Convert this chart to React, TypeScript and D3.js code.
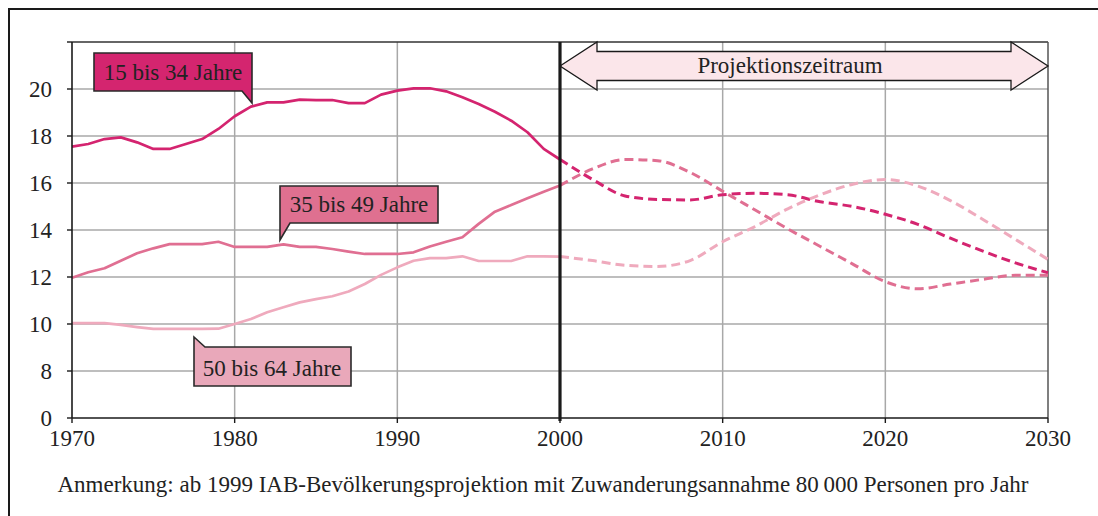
import React from "react";
import * as d3 from "d3";

const histYears = [1970,1971,1972,1973,1974,1975,1976,1977,1978,1979,1980,1981,1982,1983,1984,1985,1986,1987,1988,1989,1990,1991,1992,1993,1994,1995,1996,1997,1998,1999,2000];
const projYears = [2000,2002,2004,2006,2008,2010,2012,2014,2016,2018,2020,2022,2024,2026,2028,2030];

const hist15 = [17.55,17.66,17.87,17.94,17.73,17.45,17.45,17.66,17.87,18.3,18.84,19.25,19.43,19.43,19.55,19.53,19.53,19.4,19.4,19.76,19.93,20.03,20.03,19.9,19.65,19.36,19.03,18.65,18.16,17.45,17.0];
const hist35 = [11.97,12.2,12.37,12.69,13.01,13.22,13.4,13.4,13.4,13.5,13.28,13.28,13.28,13.39,13.28,13.28,13.19,13.08,12.98,12.98,12.98,13.05,13.3,13.5,13.69,14.26,14.78,15.06,15.35,15.63,15.89];
const hist50 = [10.04,10.04,10.04,9.96,9.87,9.79,9.79,9.79,9.79,9.8,10.0,10.21,10.5,10.71,10.92,11.06,11.18,11.38,11.7,12.09,12.41,12.69,12.8,12.8,12.88,12.68,12.68,12.68,12.88,12.88,12.87];

const proj15 = [17.0,16.15,15.45,15.3,15.28,15.5,15.56,15.5,15.2,15.0,14.67,14.24,13.65,13.1,12.6,12.18];
const proj35 = [15.89,16.6,17.0,16.95,16.45,15.65,14.85,14.05,13.3,12.55,11.8,11.5,11.7,11.9,12.07,12.07];
const proj50 = [12.87,12.7,12.5,12.45,12.7,13.5,14.15,14.9,15.5,15.95,16.15,15.87,15.25,14.45,13.6,12.75];

const seriesNames = ["15 bis 34 Jahre", "35 bis 49 Jahre", "50 bis 64 Jahre"];
const seriesColors = ["#d4246f", "#e06f92", "#efaabd"];
const labelFills = ["#d4256f", "#df7090", "#e9a8ba"];

const xTicks = [1970,1980,1990,2000,2010,2020,2030];
const yTicks = [6,8,10,12,14,16,18,20,22];
const yTickLabels = ["0","8","10","12","14","16","18","20",""];
const gridY = [8,10,12,14,16,18,20];
const gridX = [1980,1990,2010,2020];

const projStart = 2000;
const projEnd = 2030;
const projLabel = "Projektionszeitraum";
const note = "Anmerkung: ab 1999 IAB-Bevölkerungsprojektion mit Zuwanderungsannahme 80\u2009000 Personen pro Jahr";

const FONT = "Liberation Serif, DejaVu Serif, serif";

export default function App() {
  const left = 72, right = 1048, top = 42, bottom = 418;
  const x = d3.scaleLinear().domain([1970, 2030]).range([left, right]);
  const y = d3.scaleLinear().domain([6, 22]).range([bottom, top]);

  const solid = d3.line<[number, number]>().x(d => x(d[0])).y(d => y(d[1])).curve(d3.curveLinear);
  const dashed = d3.line<[number, number]>().x(d => x(d[0])).y(d => y(d[1])).curve(d3.curveMonotoneX);

  const hist = [hist15, hist35, hist50];
  const proj = [proj15, proj35, proj50];

  const ax0 = x(projStart), ax1 = x(projEnd);
  const ayc = 66, headL = 37, headH = 24, shaftH = 14.5;
  const arrowPath = `M${ax0},${ayc} L${ax0 + headL},${ayc - headH} V${ayc - shaftH} H${ax1 - headL} V${ayc - headH} L${ax1},${ayc} L${ax1 - headL},${ayc + headH} V${ayc + shaftH} H${ax0 + headL} V${ayc + headH} Z`;

  const callouts = [
    { path: "M94,53 H252 V103 L242,91 H94 Z", tx: 173, ty: 80 },
    { path: "M280,186 H438 V223 H290 L280,240 Z", tx: 359, ty: 212 },
    { path: "M194,337 L205,347 H351 V386 H194 Z", tx: 272, ty: 376 },
  ];

  const T = (props: any) => <text fontFamily={FONT} fill="#222" fontSize={23} {...props} />;

  return (
    <>
      <style>{`body{margin:0;background:#fff}`}</style>
      <svg width={1098} height={516} style={{ display: "block" }}>
        <rect x={0} y={0} width={1098} height={516} fill="#fff" />
        <rect x={9} y={9} width={1200} height={600} fill="none" stroke="#1a1a1a" strokeWidth={2} />

        {gridY.map(v => (
          <line key={"gy" + v} x1={left} x2={right} y1={y(v)} y2={y(v)} stroke="#a8a8a8" strokeWidth={1.5} />
        ))}
        {gridX.map(v => (
          <line key={"gx" + v} x1={x(v)} x2={x(v)} y1={top} y2={bottom} stroke="#a8a8a8" strokeWidth={1.5} />
        ))}
        <line x1={left} x2={right} y1={top} y2={top} stroke="#333" strokeWidth={1.5} />
        <line x1={right} x2={right} y1={top} y2={bottom} stroke="#555" strokeWidth={1.5} />

        <path d={arrowPath} fill="#fbe6ea" stroke="#1a1a1a" strokeWidth={1.3} />
        <T x={790} y={73} textAnchor="middle">{projLabel}</T>

        {hist.map((s, i) => (
          <path key={"h" + i} d={solid(histYears.map((yr, j) => [yr, s[j]]) as [number, number][]) || ""}
            fill="none" stroke={seriesColors[i]} strokeWidth={2.7} strokeLinejoin="round" />
        ))}
        {proj.map((s, i) => (
          <path key={"p" + i} d={dashed(projYears.map((yr, j) => [yr, s[j]]) as [number, number][]) || ""}
            fill="none" stroke={seriesColors[i]} strokeWidth={3} strokeDasharray="9,5" />
        ))}

        <line x1={x(projStart)} x2={x(projStart)} y1={top} y2={bottom + 3} stroke="#1a1a1a" strokeWidth={3.2} />

        <line x1={left} x2={left} y1={top} y2={bottom} stroke="#1a1a1a" strokeWidth={1.6} />
        <line x1={left} x2={right} y1={bottom} y2={bottom} stroke="#1a1a1a" strokeWidth={1.6} />
        {yTicks.map((v, i) => (
          <g key={"yt" + v}>
            <line x1={left - 5} x2={left} y1={y(v)} y2={y(v)} stroke="#1a1a1a" strokeWidth={1.4} />
            <T x={52} y={y(v) + 7.5} textAnchor="end">{yTickLabels[i]}</T>
          </g>
        ))}
        {xTicks.map(v => (
          <g key={"xt" + v}>
            <line x1={x(v)} x2={x(v)} y1={bottom} y2={bottom + 5} stroke="#1a1a1a" strokeWidth={1.4} />
            <T x={x(v)} y={446} textAnchor="middle">{v}</T>
          </g>
        ))}

        {callouts.map((c, i) => (
          <g key={"c" + i}>
            <path d={c.path} fill={labelFills[i]} stroke="#2a2a2a" strokeWidth={1.6} />
            <T x={c.tx} y={c.ty} textAnchor="middle">{seriesNames[i]}</T>
          </g>
        ))}

        <T x={543} y={492} textAnchor="middle">{note}</T>
      </svg>
    </>
  );
}
